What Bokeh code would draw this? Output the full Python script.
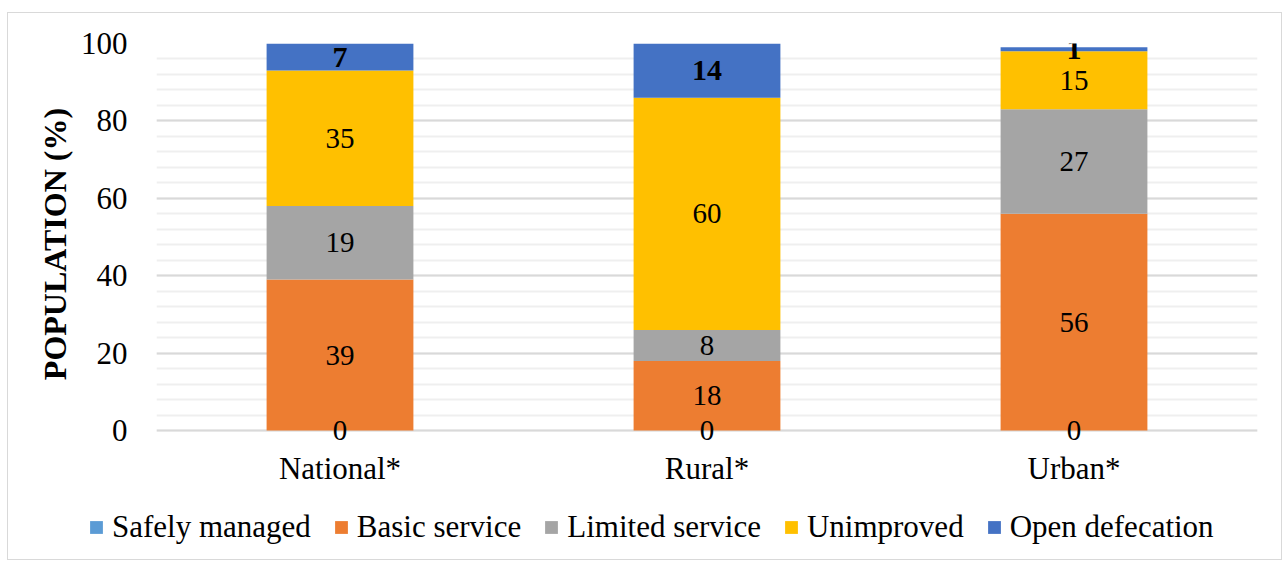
from bokeh.plotting import figure
from bokeh.layouts import column
from bokeh.models import (ColumnDataSource, FactorRange, Range1d, FixedTicker,
                          Legend, LegendItem)
from bokeh.core.properties import value
from bokeh.embed import file_html
from bokeh.resources import INLINE

categories = ["National*", "Rural*", "Urban*"]
series = ["Safely managed", "Basic service", "Limited service", "Unimproved", "Open defecation"]
safely_managed = [0, 0, 0]
basic_service = [39, 18, 56]
limited_service = [19, 8, 27]
unimproved = [35, 60, 15]
open_defecation = [7, 14, 1]
colors = ["#5B9BD5", "#ED7D31", "#A5A5A5", "#FFC000", "#4472C4"]
y_ticks = [0, 20, 40, 60, 80, 100]

FONT = "Liberation Serif"

data = {"cat": categories,
        "Safely managed": safely_managed,
        "Basic service": basic_service,
        "Limited service": limited_service,
        "Unimproved": unimproved,
        "Open defecation": open_defecation}
src = ColumnDataSource(data)

# ---------------- main chart ----------------
p = figure(x_range=FactorRange(*categories, range_padding=0), y_range=Range1d(-3.6, 100),
           width=1273, height=488, output_backend="svg", toolbar_location=None,
           min_border_left=148, min_border_right=24, min_border_top=30, min_border_bottom=57)
p.outline_line_color = None
p.frame_align = False

p.vbar_stack(series, x="cat", width=0.4, color=colors, source=src, line_color=None)

vals = [safely_managed, basic_service, limited_service, unimproved, open_defecation]
base = [0, 0, 0]
for i, v in enumerate(vals):
    mids = [b + x / 2 for b, x in zip(base, v)]
    base = [b + x for b, x in zip(base, v)]
    s = ColumnDataSource(dict(x=categories, y=mids, t=[str(x) for x in v]))
    bold = i == 4
    p.text(x="x", y="y", text="t", source=s, text_align="center", text_baseline="middle",
           text_font=value(FONT), text_font_size="30px" if bold else "29px",
           text_font_style="bold" if bold else "normal", text_color="black")

p.yaxis.ticker = FixedTicker(ticks=y_ticks, minor_ticks=list(range(0, 101, 4)))
p.yaxis.axis_line_color = None
p.yaxis.major_tick_line_color = None
p.yaxis.minor_tick_line_color = None
p.yaxis.major_label_text_font = FONT
p.yaxis.major_label_text_font_size = "31px"
p.yaxis.major_label_text_color = "black"
p.yaxis.major_label_standoff = 23
p.yaxis.axis_label = "POPULATION (%)"
p.yaxis.axis_label_text_font = FONT
p.yaxis.axis_label_text_font_size = "32px"
p.yaxis.axis_label_text_font_style = "bold"
p.yaxis.axis_label_text_color = "black"
p.yaxis.axis_label_standoff = 5

p.xaxis.axis_line_color = None
p.xaxis.major_tick_line_color = None
p.xaxis.minor_tick_line_color = None
p.xaxis.major_label_text_font = FONT
p.xaxis.major_label_text_font_size = "31px"
p.xaxis.major_label_text_color = "black"
p.xaxis.major_label_standoff = 0

p.xgrid.grid_line_color = None
p.ygrid.grid_line_color = "#d9d9d9"
p.ygrid.grid_line_width = 2
p.ygrid.minor_grid_line_color = "#efefef"
p.ygrid.minor_grid_line_width = 2

# ---------------- legend strip ----------------
lg = figure(x_range=FactorRange(*categories, range_padding=0), y_range=Range1d(1000, 1001),
            width=1273, height=58, output_backend="svg", toolbar_location=None,
            x_axis_location=None, y_axis_location=None,
            min_border_left=0, min_border_right=0, min_border_top=0, min_border_bottom=0)
lg.outline_line_color = None
lg.frame_align = False
lg.grid.visible = False
lg_renderers = lg.vbar_stack(series, x="cat", width=0.4, color=colors, source=src,
                             line_color=None)
items = [LegendItem(label=s, renderers=[r]) for s, r in zip(series, lg_renderers)]
legend = Legend(items=items, orientation="horizontal", location=(80, 14),
                label_text_font=FONT, label_text_font_size="31px", label_text_color="black",
                glyph_width=16, glyph_height=16, label_standoff=8, spacing=22,
                padding=0, margin=0, border_line_color=None, background_fill_alpha=0)
lg.add_layout(legend, "center")

layout = column(p, lg, spacing=0,
                styles={"border": "1px solid #d9d9d9", "margin-left": "7px", "margin-top": "12px"})

open("out.html", "w").write(file_html(layout, INLINE))
